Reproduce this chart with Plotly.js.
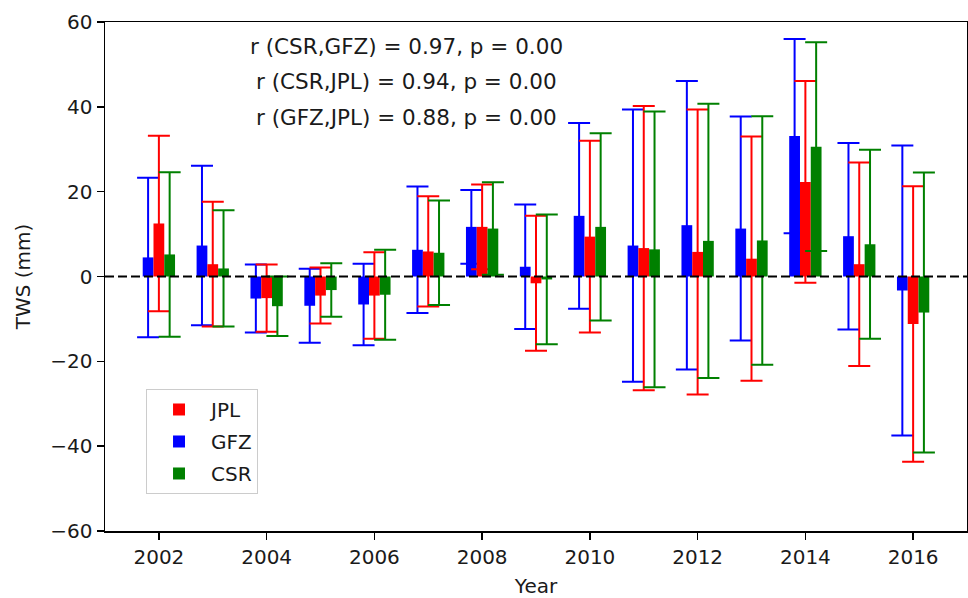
<!DOCTYPE html>
<html>
<head>
<meta charset="utf-8">
<script src="https://cdn.plot.ly/plotly-3.0.1.min.js"></script>
<style>
  html, body { margin: 0; padding: 0; background: #ffffff; }
  #chart { width: 968px; height: 598px; }
</style>
</head>
<body>
<div id="chart"></div>
<script>
// Annual terrestrial water storage anomaly (mm) per GRACE solution, with ±1σ spread
const years = [2002, 2003, 2004, 2005, 2006, 2007, 2008, 2009, 2010, 2011, 2012, 2013, 2014, 2015, 2016];

const gfzMean = [4.5, 7.3, -5.2, -6.9, -6.6, 6.3, 11.7, 2.3, 14.3, 7.3, 12.1, 11.3, 33.1, 9.5, -3.3];
const gfzStd  = [18.8, 18.8, 8.0, 8.7, 9.6, 14.9, 8.7, 14.7, 21.9, 32.1, 34.0, 26.4, 22.9, 22.0, 34.2];

const jplMean = [12.5, 2.9, -5.1, -4.5, -4.5, 5.9, 11.7, -1.6, 9.4, 6.7, 5.8, 4.2, 22.3, 2.9, -11.2];
const jplStd  = [20.7, 14.7, 7.9, 6.6, 10.2, 13.0, 10.0, 15.9, 22.6, 33.5, 33.6, 28.8, 23.8, 24.0, 32.5];

const csrMean = [5.2, 1.9, -7.0, -3.2, -4.3, 5.6, 11.3, -0.7, 11.7, 6.4, 8.4, 8.5, 30.6, 7.6, -8.5];
const csrStd  = [19.4, 13.7, 7.0, 6.3, 10.6, 12.3, 10.9, 15.3, 22.1, 32.5, 32.3, 29.3, 24.6, 22.3, 33.0];

const xTicks = [2002, 2004, 2006, 2008, 2010, 2012, 2014, 2016];
const yTicks = [-60, -40, -20, 0, 20, 40, 60];

const statLines = [
  'r (CSR,GFZ) = 0.97, p = 0.00',
  'r (CSR,JPL) = 0.94, p = 0.00',
  'r (GFZ,JPL) = 0.88, p = 0.00'
];

const FONT = '"DejaVu Sans", Arial, sans-serif';
const INK = '#1a1a1a';

function barTrace(name, mean, std, color, rank) {
  return {
    type: 'bar',
    name: name,
    legendgroup: name,
    x: years,
    y: mean,
    marker: { color: color, line: { width: 0 } },
    error_y: {
      type: 'data',
      array: std,
      visible: true,
      color: color,
      thickness: 2,
      width: 11
    },
    legendrank: rank,
    hoverinfo: 'x+y+name'
  };
}

// group order left→right: GFZ, JPL, CSR
const data = [
  barTrace('GFZ', gfzMean, gfzStd, '#0000ff', 2),
  barTrace('JPL', jplMean, jplStd, '#ff0000', 1),
  barTrace('CSR', csrMean, csrStd, '#008000', 3)
];

const axisCommon = {
  showline: true,
  mirror: true,
  linecolor: '#000000',
  linewidth: 1.5,
  ticks: 'outside',
  ticklen: 7,
  tickwidth: 1.5,
  tickcolor: '#000000',
  showgrid: false,
  zeroline: false,
  tickfont: { family: FONT, size: 20, color: INK }
};

const layout = {
  width: 968,
  height: 598,
  autosize: false,
  paper_bgcolor: '#ffffff',
  plot_bgcolor: '#ffffff',
  font: { family: FONT, size: 20, color: INK },
  margin: { l: 105, r: 1, t: 22, b: 67, pad: 0 },
  barmode: 'group',
  bargap: 0.4,
  bargroupgap: 0,
  showlegend: true,
  legend: {
    x: 0.0476,
    y: 0.279,
    xanchor: 'left',
    yanchor: 'top',
    bgcolor: '#ffffff',
    bordercolor: '#cccccc',
    borderwidth: 1,
    itemwidth: 54,
    font: { family: FONT, size: 20, color: INK },
    tracegroupgap: 3
  },
  xaxis: Object.assign({}, axisCommon, {
    range: [2001, 2017],
    tickmode: 'array',
    tickvals: xTicks,
    ticktext: xTicks.map(String),
    title: { text: 'Year', font: { family: FONT, size: 20, color: INK }, standoff: 20 }
  }),
  yaxis: Object.assign({}, axisCommon, {
    range: [-60, 60],
    tickmode: 'array',
    tickvals: yTicks,
    title: { text: 'TWS (mm)', font: { family: FONT, size: 20, color: INK }, standoff: 14 }
  }),
  shapes: [{
    type: 'line',
    xref: 'paper', x0: 0, x1: 1,
    yref: 'y', y0: 0, y1: 0,
    line: { color: '#000000', width: 2, dash: '9px,4px' },
    layer: 'above'
  }],
  annotations: statLines.map(function (t, i) {
    return {
      text: t,
      xref: 'paper', yref: 'paper',
      x: 0.3493,
      y: [0.952, 0.883, 0.813][i],
      xanchor: 'center', yanchor: 'middle',
      showarrow: false,
      font: { family: FONT, size: 21.5, color: INK }
    };
  })
};

Plotly.newPlot('chart', data, layout, { displayModeBar: false, staticPlot: true });
</script>
</body>
</html>
